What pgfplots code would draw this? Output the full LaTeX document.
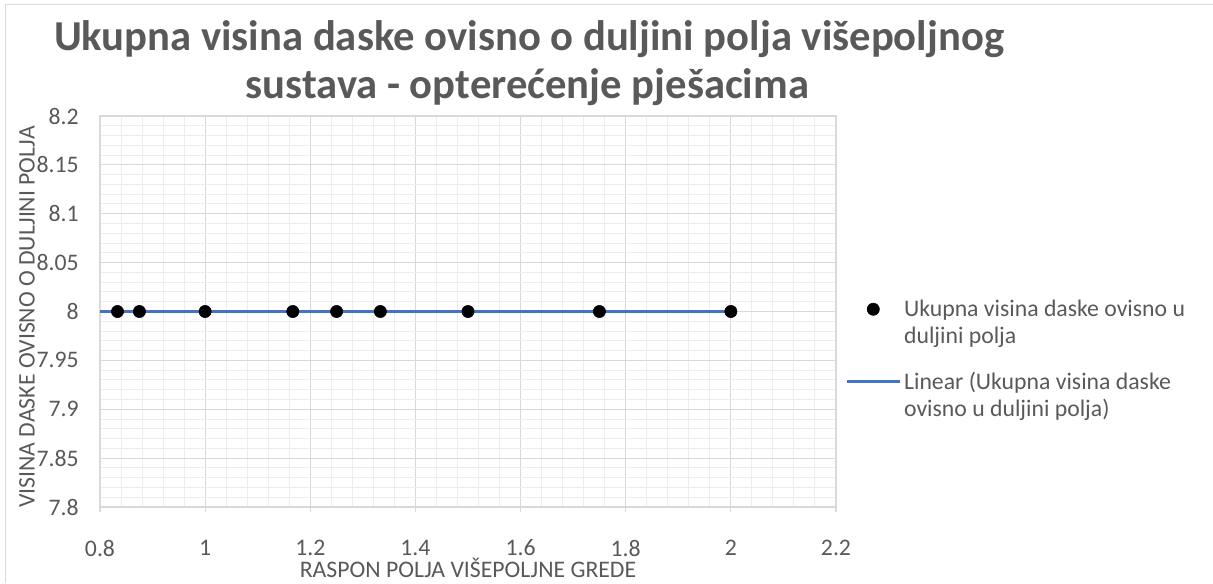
\documentclass[border=0pt]{standalone}
\usepackage{fontspec}
\setmainfont{Carlito}
\usepackage{pgfplots}
\pgfplotsset{compat=1.18}
\definecolor{txt}{HTML}{595959}
\definecolor{majg}{HTML}{D9D9D9}
\definecolor{ming}{HTML}{EDEDED}
\definecolor{trend}{HTML}{4472C4}
\pgfplotsset{
  markleg/.style={legend image code/.code={\draw[mark repeat=2,mark phase=2,##1] plot coordinates {(0pt,10.1pt)(20pt,10.1pt)(40pt,10.1pt)};}},
  lineleg/.style={legend image code/.code={\draw[##1] (0pt,10.1pt) -- (40pt,10.1pt);}},
}
\begin{document}
\begin{tikzpicture}
\useasboundingbox (-75pt,-57pt) rectangle (834.75pt,380.25pt);
\draw[majg,line width=0.75pt] (-70.5pt,-57pt) -- (-70.5pt,376.9pt) -- (834.75pt,376.9pt);
\node[anchor=base,font=\fontsize{32}{38}\selectfont\bfseries,text=txt,inner sep=0pt] at (321.75pt,342pt) {Ukupna visina daske ovisno o duljini polja višepoljnog};
\node[anchor=base,font=\fontsize{32}{38}\selectfont\bfseries,text=txt,inner sep=0pt] at (320.6pt,306pt) {sustava - opterećenje pješacima};
\begin{axis}[
  at={(0pt,0pt)}, anchor=south west,
  width=552pt, height=293.25pt, scale only axis,
  xmin=0.8, xmax=2.2, ymin=7.8, ymax=8.2,
  xtick={0.8,1,1.2,1.4,1.6,1.8,2,2.2},
  ytick={7.8,7.85,7.9,7.95,8,8.05,8.1,8.15,8.2},
  xticklabels={0.8,1,1.2,1.4,1.6,1.8,2,2.2},
  yticklabels={7.8,7.85,7.9,7.95,8,8.05,8.1,8.15,8.2},
  minor x tick num=4, minor y tick num=4,
  grid=both,
  major grid style={majg,line width=0.9pt},
  minor grid style={ming,line width=0.75pt},
  axis line style={majg,line width=0.9pt},
  tick align=outside,
  xtick style={majg,line width=0.9pt},
  major tick length=3.75pt,
  ytick style={draw=none},
  minor tick style={draw=none},
  xtick pos=bottom, ytick pos=left,
  tick label style={font=\fontsize{17.8}{21}\selectfont,text=txt},
  /pgf/number format/assume math mode=true,
  xticklabel style={anchor=center,inner sep=0pt,yshift=-27pt},
  yticklabel style={anchor=east,inner sep=0pt,xshift=-12pt},
  xlabel={RASPON POLJA VIŠEPOLJNE GREDE},
  ylabel={VISINA DASKE OVISNO O DULJINI POLJA},
  label style={font=\fontsize{17.8}{21}\selectfont,text=txt},
  xlabel style={at={(axis description cs:0.5,-0.155)},anchor=center,inner sep=0pt},
  ylabel style={at={(axis description cs:-0.0992,0.486)},anchor=center,inner sep=0pt},
  legend style={at={(axis description cs:1.012,0.537)},anchor=north west,draw=none,fill=none,
    font=\fontsize{17.8}{20.25}\selectfont,text=txt,inner sep=0pt,
    cells={align=left},row sep=16pt},
  legend cell align=left,
]
\addplot[only marks,mark=*,mark size=4.6pt,black,markleg]
  coordinates {(0.8333,8) (0.875,8) (1,8) (1.1667,8) (1.25,8) (1.3333,8) (1.5,8) (1.75,8) (2,8)};
\addlegendentry{Ukupna visina daske ovisno u\\duljini polja}
\addplot[trend,line width=2.25pt,lineleg]
  coordinates {(0.8,8) (2,8)};
\addlegendentry{Linear (Ukupna visina daske\\ovisno u duljini polja)}
\end{axis}
\end{tikzpicture}
\end{document}
